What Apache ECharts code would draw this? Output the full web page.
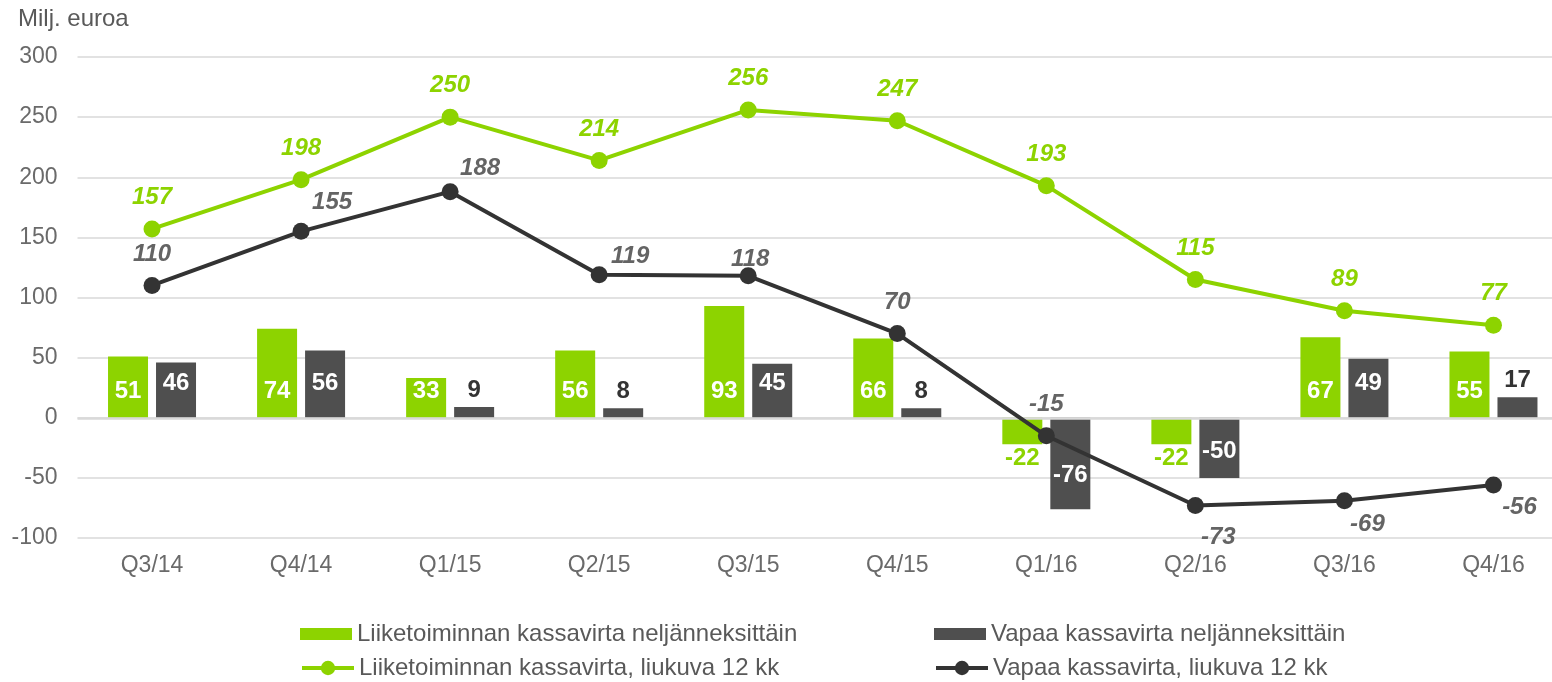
<!DOCTYPE html>
<html><head><meta charset="utf-8">
<script src="https://cdn.jsdelivr.net/npm/echarts@6/dist/echarts.min.js"></script>
<style>html,body{margin:0;padding:0;background:#fff;overflow:hidden}#c{width:1568px;height:682px}</style>
</head><body><div id="c"></div>
<script>
const categories = ['Q3/14','Q4/14','Q1/15','Q2/15','Q3/15','Q4/15','Q1/16','Q2/16','Q3/16','Q4/16'];
const opQuarter = [51,74,33,56,93,66,-22,-22,67,55];
const freeQuarter = [46,56,9,8,45,8,-76,-50,49,17];
const opRolling = [157,198,250,214,256,247,193,115,89,77];
const freeRolling = [110,155,188,119,118,70,-15,-73,-69,-56];
const yTicks = {min:-100, max:300, step:50};
const names = ['Liiketoiminnan kassavirta neljänneksittäin','Vapaa kassavirta neljänneksittäin','Liiketoiminnan kassavirta, liukuva 12 kk','Vapaa kassavirta, liukuva 12 kk'];

const GREEN = '#8dd300', DARK = '#4f4f4f', LINE_DARK = '#333333', TXT = '#595959', AX = '#6a6a6a';
const F = 'Liberation Sans, Arial, sans-serif';

const freeLineOffsets = [[0,0],[31,3],[30,8],[31,13],[2,15],[0,0],[0,0],[23,0],[23,-8],[26,-9]];

const chart = echarts.init(document.getElementById('c'));
const barLabelBase = {show:true, fontFamily:F, fontSize:24, fontWeight:'bold'};

const opData = opQuarter.map(v => v >= 0
  ? {value:v, label:Object.assign({}, barLabelBase, {position:'insideBottom', distance:14, color:'#fff'})}
  : {value:v, label:Object.assign({}, barLabelBase, {position:'inside', offset:[0,27], color:GREEN})});
const freeData = freeQuarter.map(v => {
  if (v < 0) return {value:v, label:Object.assign({}, barLabelBase, {position:'inside', offset:[0, v < -60 ? 12 : 4], color:'#fff'})};
  if (v < 25) return {value:v, label:Object.assign({}, barLabelBase, {position:'top', distance:5, color:'#333'})};
  return {value:v, label:Object.assign({}, barLabelBase, {position:'insideBottom', distance:22, color:'#fff'})};
});
const freeLineData = freeRolling.map((v,i) => ({value:v, label:{position: v < -50 ? 'bottom' : 'top', offset:freeLineOffsets[i]}}));

const legendBase = {orient:'horizontal', itemWidth:52, itemHeight:12, itemGap:0,
  textStyle:{fontFamily:F, fontSize:24, color:TXT}, padding:0};
const barLegend = {icon:'rect'};
const lineLegend = {itemHeight:18, lineStyle:{width:4}};

chart.setOption({
  animation:false,
  graphic:[{type:'text', left:18, top:7, style:{text:'Milj. euroa', font:'24px ' + F, fill:TXT}}],
  grid:{left:77.5, right:0, top:57, bottom:144},
  legend:[
    Object.assign({}, legendBase, barLegend, {left:300, top:622, data:[names[0]]}),
    Object.assign({}, legendBase, barLegend, {left:934, top:622, data:[names[1]]}),
    Object.assign({}, legendBase, lineLegend, {left:300, top:656, data:[names[2]]}),
    Object.assign({}, legendBase, lineLegend, {left:934, top:656, data:[names[3]]})
  ],
  xAxis:{type:'category', data:categories,
    axisLine:{show:false, onZero:false}, axisTick:{show:false},
    axisLabel:{fontFamily:F, fontSize:23, color:AX, margin:16}},
  yAxis:{type:'value', min:yTicks.min, max:yTicks.max, interval:yTicks.step,
    axisLine:{show:false}, axisTick:{show:false},
    axisLabel:{fontFamily:F, fontSize:23, color:AX, margin:20},
    splitLine:{lineStyle:{color:'#d9d9d9', width:1.5}}},
  series:[
    {name:names[0], type:'bar', data:opData, barWidth:40, barGap:'20%', itemStyle:{color:GREEN},
     markLine:{silent:true, symbol:'none', label:{show:false}, lineStyle:{color:'#d9d9d9', width:2.5, type:'solid'}, data:[{yAxis:0}]}},
    {name:names[1], type:'bar', data:freeData, barWidth:40, itemStyle:{color:DARK}},
    {name:names[2], type:'line', data:opRolling, symbol:'circle', symbolSize:17, z:5,
     lineStyle:{color:GREEN, width:4}, itemStyle:{color:GREEN},
     label:{show:true, position:'top', distance:11, fontFamily:F, fontSize:24, fontWeight:'bold', fontStyle:'italic', color:GREEN}},
    {name:names[3], type:'line', data:freeLineData, symbol:'circle', symbolSize:17, z:5,
     lineStyle:{color:LINE_DARK, width:4}, itemStyle:{color:LINE_DARK},
     label:{show:true, distance:11, fontFamily:F, fontSize:24, fontWeight:'bold', fontStyle:'italic', color:'#646464'}}
  ]
});
</script></body></html>
